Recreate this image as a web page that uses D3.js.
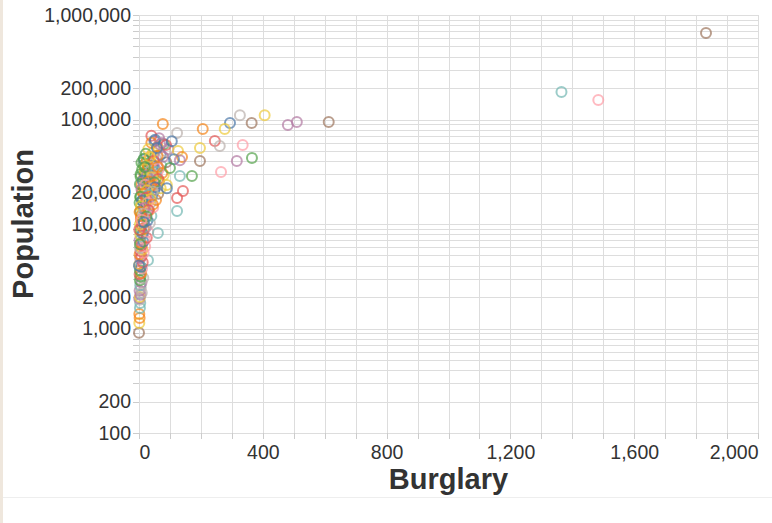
<!DOCTYPE html>
<html>
<head>
<meta charset="utf-8">
<script src="https://cdn.jsdelivr.net/npm/d3@7"></script>
<style>
  body { margin: 0; background: #fff; }
  .grid line { stroke: #ddd; stroke-width: 1; shape-rendering: crispEdges; }
  .axis path { display: none; }
  .axis line { stroke: #ccc; shape-rendering: crispEdges; }
  .axis text { fill: #333; font-family: "Liberation Sans", Arial, sans-serif; font-size: 19.5px; }
  .title { fill: #333; font-family: "Liberation Sans", Arial, sans-serif; font-size: 29px; font-weight: bold; }
</style>
</head>
<body>
<div id="chart"></div>
<script>
// burglary counts, population and colour group, one entry per city
var burglary = [
  0, 1, 2, 1, 3, 4, 2, 1, 3, 5, 2, 6, 4, 8, 3, 14, 5, 2, 7, 3,
  10, 6, 1, 29, 12, 4, 8, 2, 15, 5, 11, 3, 20, 9, 6, 14, 2, 18, 25, 8,
  4, 12, 30, 5, 16, 22, 9, 3, 35, 12, 27, 6, 18, 40, 10, 25, 4, 33, 15, 46,
  8, 22, 38, 12, 55, 28, 5, 42, 18, 62, 33, 10, 50, 25, 70, 15, 40, 58, 8, 30,
  48, 20, 65, 12, 38, 55, 25, 5, 45, 80, 18, 35, 60, 10, 28, 50, 72, 15, 40, 88,
  25, 55, 35, 70, 45, 95, 60, 80, 50, 65, 40, 2, 6, 1, 3, 0, 9, 20, 44, 16,
  40, 52, 68, 30, 85, 22, 60, 78, 15, 48,
  8, 28, 45, 65, 18, 38, 55, 75, 5, 25, 42, 62, 12, 32, 50,
  3, 20, 36, 52, 8, 26, 44, 14, 30, 4, 22, 38, 10, 28, 45,
  6, 18, 30, 2, 14, 24, 8, 16,
  1832, 1365, 1484, 326, 406, 294, 364, 481, 510, 613,
  206, 277, 245, 261, 335, 197, 316, 365, 197, 265,
  77, 123, 74, 87, 106, 58, 126, 139, 35, 113,
  132, 132, 171, 19, 100, 61, 142, 123, 123, 90,
  90, 61
];
var population = [
  910, 1130, 1260, 1380, 1570, 1750, 1880, 1950, 2000, 2100, 2300, 2450, 2600, 2750, 2900, 3050, 3150, 3300, 3400, 3600,
  3750, 3900, 4100, 4500, 4300, 4700, 4900, 5100, 5300, 5500, 5700, 5900, 6100, 6300, 6600, 6800, 7000, 7200, 7400, 7600,
  7900, 8100, 8400, 8700, 9000, 9300, 9600, 9900, 10200, 10500, 10800, 11100, 11500, 11900, 12300, 12700, 13100, 13500, 14000, 14500,
  15000, 15500, 16000, 16500, 17000, 17500, 18000, 18500, 19000, 19500, 20000, 20500, 21000, 21500, 22000, 22500, 23000, 23500, 24000, 24500,
  25000, 25500, 26000, 26500, 27000, 27500, 28000, 28500, 29000, 29500, 30000, 31000, 32000, 33000, 34000, 35000, 36000, 37000, 38000, 39000,
  40000, 42000, 44000, 46000, 48000, 52000, 55000, 58000, 62000, 66000, 70000, 16000, 12000, 8800, 6400, 4000, 2200, 30500, 26800, 41500,
  60000, 64000, 58000, 52000, 50000, 47000, 45000, 44000, 42000, 40000,
  38500, 36500, 36000, 34000, 33500, 32500, 31500, 30800, 30000, 29000, 28000, 27000, 26000, 25500, 25000,
  24000, 23800, 23000, 22500, 21500, 21000, 20500, 19500, 19000, 18200, 17800, 17300, 16800, 16000, 15400,
  14800, 14200, 13600, 13000, 12600, 11800, 11000, 10400,
  673000, 183000, 154000, 110000, 110000, 92500, 92500, 88500, 94600, 94600,
  81000, 81000, 62200, 55700, 57000, 53300, 40100, 42900, 40100, 31500,
  90600, 74300, 59600, 57000, 62000, 53300, 50000, 43700, 43700, 41700,
  40700, 28800, 28800, 35100, 34300, 35100, 20700, 17700, 13300, 23600,
  22000, 8200
];
var group = [
  8, 5, 1, 1, 3, 3, 9, 6, 5, 6, 6, 9, 3, 6, 4, 9, 4, 2, 1, 4,
  7, 0, 5, 3, 2, 6, 2, 1, 7, 2, 5, 9, 7, 2, 1, 0, 6, 7, 2, 3,
  5, 0, 7, 4, 1, 6, 2, 5, 9, 4, 0, 1, 7, 3, 5, 6, 4, 1, 0, 7,
  5, 2, 9, 4, 1, 6, 4, 0, 5, 8, 7, 1, 0, 6, 5, 4, 2, 9, 1, 0,
  7, 3, 1, 5, 6, 4, 9, 4, 1, 5, 2, 0, 7, 4, 1, 6, 3, 4, 5, 8,
  1, 9, 7, 0, 5, 6, 1, 4, 0, 6, 2, 4, 1, 2, 4, 0, 9, 4, 7, 0,
  1, 0, 6, 5, 9, 4, 1, 6, 4, 2,
  4, 1, 0, 7, 5, 9, 3, 1, 4, 6, 5, 2, 0, 1, 4,
  4, 7, 1, 0, 6, 5, 9, 1, 3, 4, 2, 5, 0, 7, 1,
  5, 6, 2, 1, 9, 4, 7, 0,
  8, 3, 7, 9, 5, 0, 8, 6, 6, 8,
  1, 5, 2, 9, 7, 5, 6, 4, 8, 7,
  1, 9, 6, 2, 0, 0, 5, 1, 5, 0,
  6, 3, 4, 4, 4, 1, 2, 2, 3, 5,
  0, 3
];
var palette = ["#4c78a8", "#f58518", "#e45756", "#72b7b2", "#54a24b",
               "#eeca3b", "#b279a2", "#ff9da6", "#9d755d", "#bab0ac"];

var xTicks = d3.range(0, 2001, 100);
var xLabels = [0, 400, 800, 1200, 1600, 2000];
var yLabels = [100, 200, 1000, 2000, 10000, 20000, 100000, 200000, 1000000];

var W = 772, H = 523;
var plotL = 139, plotR = 758, plotT = 15, plotB = 433;

var data = burglary.map(function(b, i) {
  return { burglary: b, population: population[i], group: group[i] };
});

var svg = d3.select("#chart").append("svg")
  .attr("width", W)
  .attr("height", H);

// page frame bits
svg.append("rect").attr("x", 0).attr("y", 0).attr("width", 3).attr("height", H).attr("fill", "#efe7dd");
svg.append("line").attr("x1", 3).attr("x2", W).attr("y1", 497.5).attr("y2", 497.5).attr("stroke", "#eee");

var x = d3.scaleLinear().domain([0, 2000]).range([plotL, plotR]);
var y = d3.scaleLog().domain([100, 1000000]).range([plotB, plotT]);

var yTicks = [];
[100, 1000, 10000, 100000].forEach(function(p) {
  for (var k = 1; k < 10; k++) yTicks.push(p * k);
});
yTicks.push(1000000);

var fmt = d3.format(",");

// grid
var grid = svg.append("g").attr("class", "grid");
grid.selectAll(".gx").data(xTicks).enter().append("line")
  .attr("x1", d => Math.round(x(d)) + 0.5).attr("x2", d => Math.round(x(d)) + 0.5)
  .attr("y1", plotT).attr("y2", plotB);
grid.selectAll(".gy").data(yTicks).enter().append("line")
  .attr("x1", plotL).attr("x2", plotR)
  .attr("y1", d => Math.round(y(d)) + 0.5).attr("y2", d => Math.round(y(d)) + 0.5);

// axes
svg.append("g")
  .attr("class", "axis")
  .attr("transform", "translate(0," + plotB + ")")
  .call(d3.axisBottom(x).tickValues(xTicks).tickSize(6).tickPadding(6)
    .tickFormat(d => xLabels.indexOf(d) >= 0 ? fmt(d) : ""))
  .call(g => {
    g.selectAll(".tick text").filter(d => d === 0).attr("text-anchor", "start");
    g.selectAll(".tick text").filter(d => d === 2000).attr("text-anchor", "end");
  });

svg.append("g")
  .attr("class", "axis")
  .attr("transform", "translate(" + plotL + ",0)")
  .call(d3.axisLeft(y).tickValues(yTicks).tickSize(6).tickPadding(2)
    .tickFormat(d => yLabels.indexOf(d) >= 0 ? fmt(d) : ""));

// points
svg.append("g").selectAll("circle")
  .data(data)
  .enter()
  .append("circle")
  .attr("cx", d => x(d.burglary))
  .attr("cy", d => y(d.population))
  .attr("r", 5)
  .attr("fill", "none")
  .attr("stroke", d => palette[d.group])
  .attr("stroke-width", 2)
  .attr("stroke-opacity", 0.7);

// titles
svg.append("text")
  .attr("class", "title")
  .attr("x", (plotL + plotR) / 2)
  .attr("y", 489)
  .attr("text-anchor", "middle")
  .text("Burglary");

svg.append("text")
  .attr("class", "title")
  .attr("transform", "translate(33," + (plotT + plotB) / 2 + ") rotate(-90)")
  .attr("text-anchor", "middle")
  .text("Population");
</script>
</body>
</html>
